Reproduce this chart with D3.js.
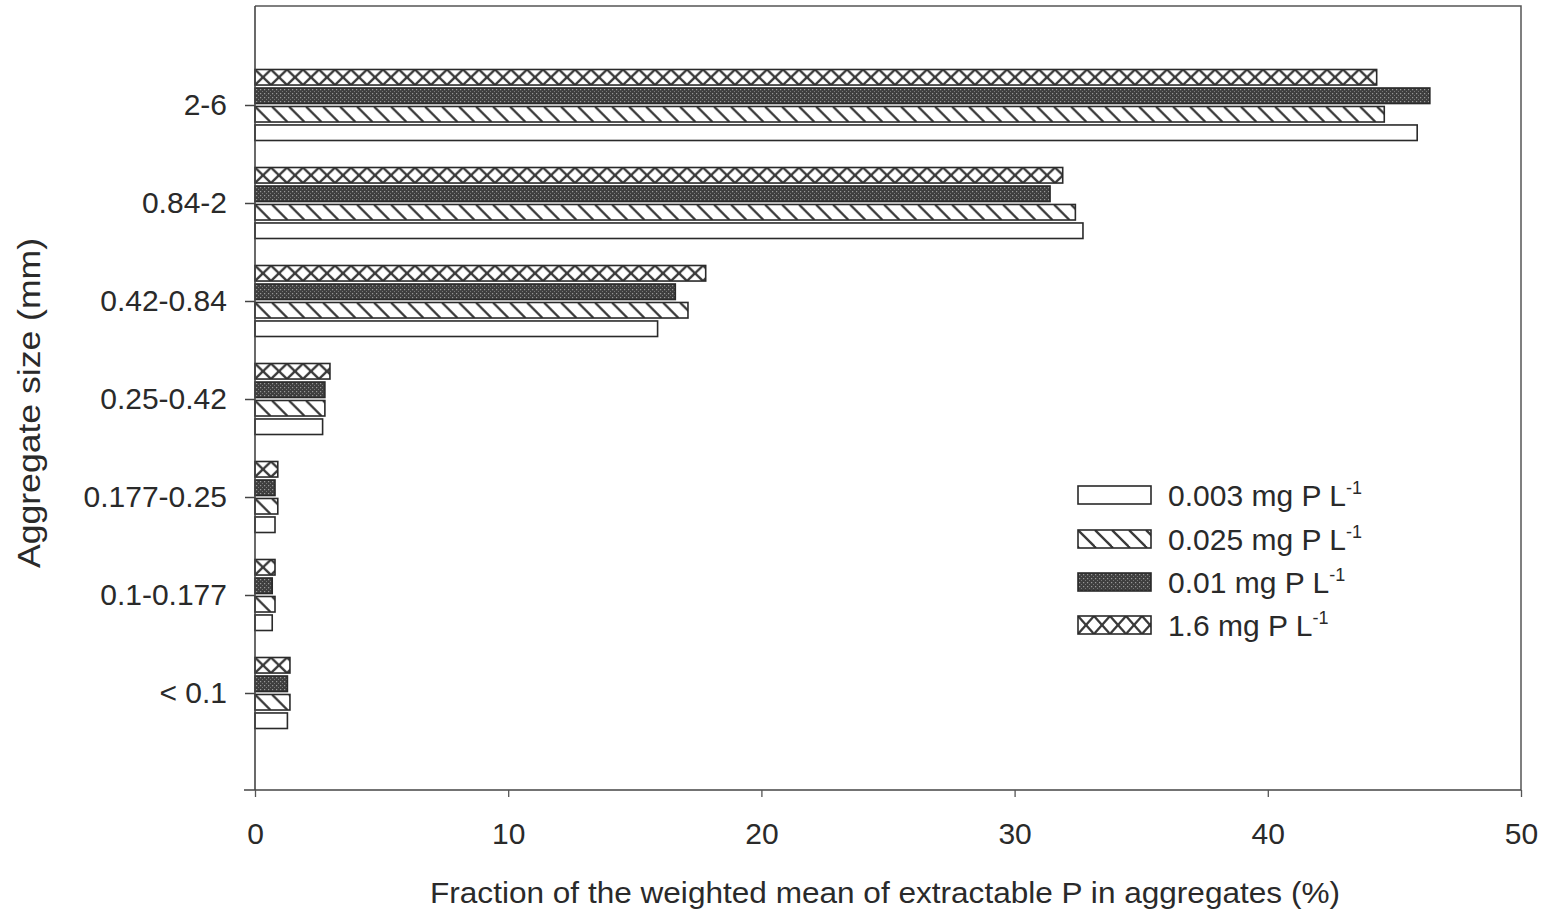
<!DOCTYPE html>
<html>
<head>
<meta charset="utf-8">
<script src="https://cdn.jsdelivr.net/npm/d3@7"></script>
<style>
  html, body { margin: 0; padding: 0; background: #fff; }
  svg { display: block; font-family: "Liberation Sans", Arial, sans-serif; }
</style>
</head>
<body>
<svg id="chart" width="1555" height="914"></svg>
<script>
// ---- data ----
const categories = ["2-6", "0.84-2", "0.42-0.84", "0.25-0.42", "0.177-0.25", "0.1-0.177", "< 0.1"];
const seriesNames = ["0.003 mg P L", "0.025 mg P L", "0.01 mg P L", "1.6 mg P L"];
const seriesKeys = ["s003", "s025", "s01", "s16"];
const s003 = [45.9, 32.7, 15.9, 2.67, 0.79, 0.68, 1.28];
const s025 = [44.6, 32.4, 17.1, 2.76, 0.9, 0.79, 1.38];
const s01  = [46.4, 31.4, 16.6, 2.76, 0.79, 0.68, 1.28];
const s16  = [44.3, 31.9, 17.8, 2.96, 0.9, 0.79, 1.38];
const xTicks = [0, 10, 20, 30, 40, 50];
// order of bars inside a group, from top to bottom
const barOrder = ["s16", "s01", "s025", "s003"];

const valuesByKey = { s003, s025, s01, s16 };

const svg = d3.select("#chart");
const ink = "#2a2a2a";
const lineCol = "#3a3a3a";

const x = d3.scaleLinear().domain([0, 50]).range([255, 1521]);
const y = d3.scalePoint().domain(categories).range([7, 791]).padding(1);
const inner = d3.scaleBand().domain(barOrder).range([-35.5, 35.5]).paddingInner(0.16);
const bh = inner.bandwidth();

// ---- patterns ----
const defs = svg.append("defs");
function makePatterns(suffix, h) {
  // diagonal "\"
  const dw = 17;
  const pd = defs.append("pattern").attr("id", "s025" + suffix)
    .attr("patternUnits", "userSpaceOnUse").attr("width", dw).attr("height", h);
  pd.append("rect").attr("width", dw).attr("height", h).attr("fill", "#fff");
  [-dw, 0, dw].forEach(o => {
    pd.append("line").attr("x1", o).attr("y1", 0).attr("x2", o + h).attr("y2", h)
      .attr("stroke", lineCol).attr("stroke-width", 2.3);
  });
  // dark dotted
  const pk = defs.append("pattern").attr("id", "s01" + suffix)
    .attr("patternUnits", "userSpaceOnUse").attr("width", 4).attr("height", 4);
  pk.append("rect").attr("width", 4).attr("height", 4).attr("fill", "#3e3e3e");
  pk.append("rect").attr("x", 1).attr("y", 1).attr("width", 1.2).attr("height", 1.2).attr("fill", "#9a9a9a");
  pk.append("rect").attr("x", 3).attr("y", 3).attr("width", 1).attr("height", 1).attr("fill", "#777");
  // crosshatch X chain
  const cw = 16;
  const pc = defs.append("pattern").attr("id", "s16" + suffix)
    .attr("patternUnits", "userSpaceOnUse").attr("width", cw).attr("height", h);
  pc.append("rect").attr("width", cw).attr("height", h).attr("fill", "#fff");
  pc.append("line").attr("x1", 0).attr("y1", 0).attr("x2", cw).attr("y2", h)
    .attr("stroke", lineCol).attr("stroke-width", 2.3);
  pc.append("line").attr("x1", cw).attr("y1", 0).attr("x2", 0).attr("y2", h)
    .attr("stroke", lineCol).attr("stroke-width", 2.3);
  // white
  const pw = defs.append("pattern").attr("id", "s003" + suffix)
    .attr("patternUnits", "userSpaceOnUse").attr("width", 10).attr("height", h);
  pw.append("rect").attr("width", 10).attr("height", h).attr("fill", "#fff");
}
makePatterns("-bar", bh);
const legH = 18;
makePatterns("-leg", legH);

// ---- bars ----
const groups = svg.append("g").selectAll("g.cat")
  .data(categories).join("g").attr("class", "cat")
  .attr("transform", d => `translate(0,${y(d)})`);

groups.each(function(cat, ci) {
  const g = d3.select(this);
  barOrder.forEach(k => {
    const v = valuesByKey[k][ci];
    const bg = g.append("g").attr("transform", `translate(${x(0)},${inner(k)})`);
    bg.append("rect")
      .attr("x", 0).attr("y", 0)
      .attr("width", x(v) - x(0)).attr("height", bh)
      .attr("fill", `url(#${k}-bar)`)
      .attr("stroke", ink).attr("stroke-width", 1.6);
  });
});

// ---- frame ----
svg.append("path")
  .attr("d", `M${x(0)},${y.range()[0] - 1}H${x(50)}V${y.range()[1] - 1}`)
  .attr("fill", "none").attr("stroke", "#555").attr("stroke-width", 1.5);

// ---- axes ----
const yAxis = svg.append("g").attr("transform", `translate(${x(0)},0)`)
  .call(d3.axisLeft(y).tickSize(10).tickSizeOuter(0).tickPadding(18));
yAxis.select(".domain").attr("stroke", "#444").attr("stroke-width", 1.6)
  .attr("d", `M0,${y.range()[0] - 1}V${y.range()[1] - 1}`);
yAxis.selectAll(".tick line").attr("stroke", "#444").attr("stroke-width", 1.5);
yAxis.selectAll(".tick text").attr("font-size", 30).attr("fill", ink)
  .attr("font-family", "Liberation Sans, Arial, sans-serif");

const xAxis = svg.append("g").attr("transform", `translate(0,${y.range()[1] - 1})`)
  .call(d3.axisBottom(x).tickValues(xTicks).tickFormat(d3.format("d")).tickSize(7).tickSizeOuter(0).tickPadding(26));
xAxis.select(".domain").attr("stroke", "#444").attr("stroke-width", 1.6)
  .attr("d", `M${x(0) - 11},0H${x(50)}`);
xAxis.selectAll(".tick line").attr("stroke", "#555").attr("stroke-width", 1.3);
xAxis.selectAll(".tick text").attr("font-size", 30).attr("fill", ink)
  .attr("font-family", "Liberation Sans, Arial, sans-serif");

// ---- axis titles ----
svg.append("text")
  .attr("x", 885).attr("y", 903)
  .attr("text-anchor", "middle")
  .attr("font-size", 30).attr("fill", ink)
  .attr("textLength", 910).attr("lengthAdjust", "spacingAndGlyphs")
  .text("Fraction of the weighted mean of extractable P in aggregates (%)");

svg.append("text")
  .attr("transform", "translate(40,403) rotate(-90)")
  .attr("text-anchor", "middle")
  .attr("font-size", 32).attr("fill", ink)
  .attr("textLength", 330).attr("lengthAdjust", "spacingAndGlyphs")
  .text("Aggregate size (mm)");

// ---- legend ----
const legRows = [495, 539, 582, 625];
const legend = svg.append("g");
seriesKeys.forEach((k, i) => {
  const cy = legRows[i];
  const lg = legend.append("g").attr("transform", `translate(1078,${cy - legH / 2})`);
  lg.append("rect").attr("width", 73).attr("height", legH)
    .attr("fill", `url(#${k}-leg)`).attr("stroke", ink).attr("stroke-width", 1.6);
  const t = legend.append("text")
    .attr("x", 1168).attr("y", cy + 11)
    .attr("font-size", 30).attr("fill", ink);
  t.append("tspan").text(seriesNames[i]);
  t.append("tspan").attr("dy", -12).attr("font-size", 18).text("-1");
});
</script>
</body>
</html>
